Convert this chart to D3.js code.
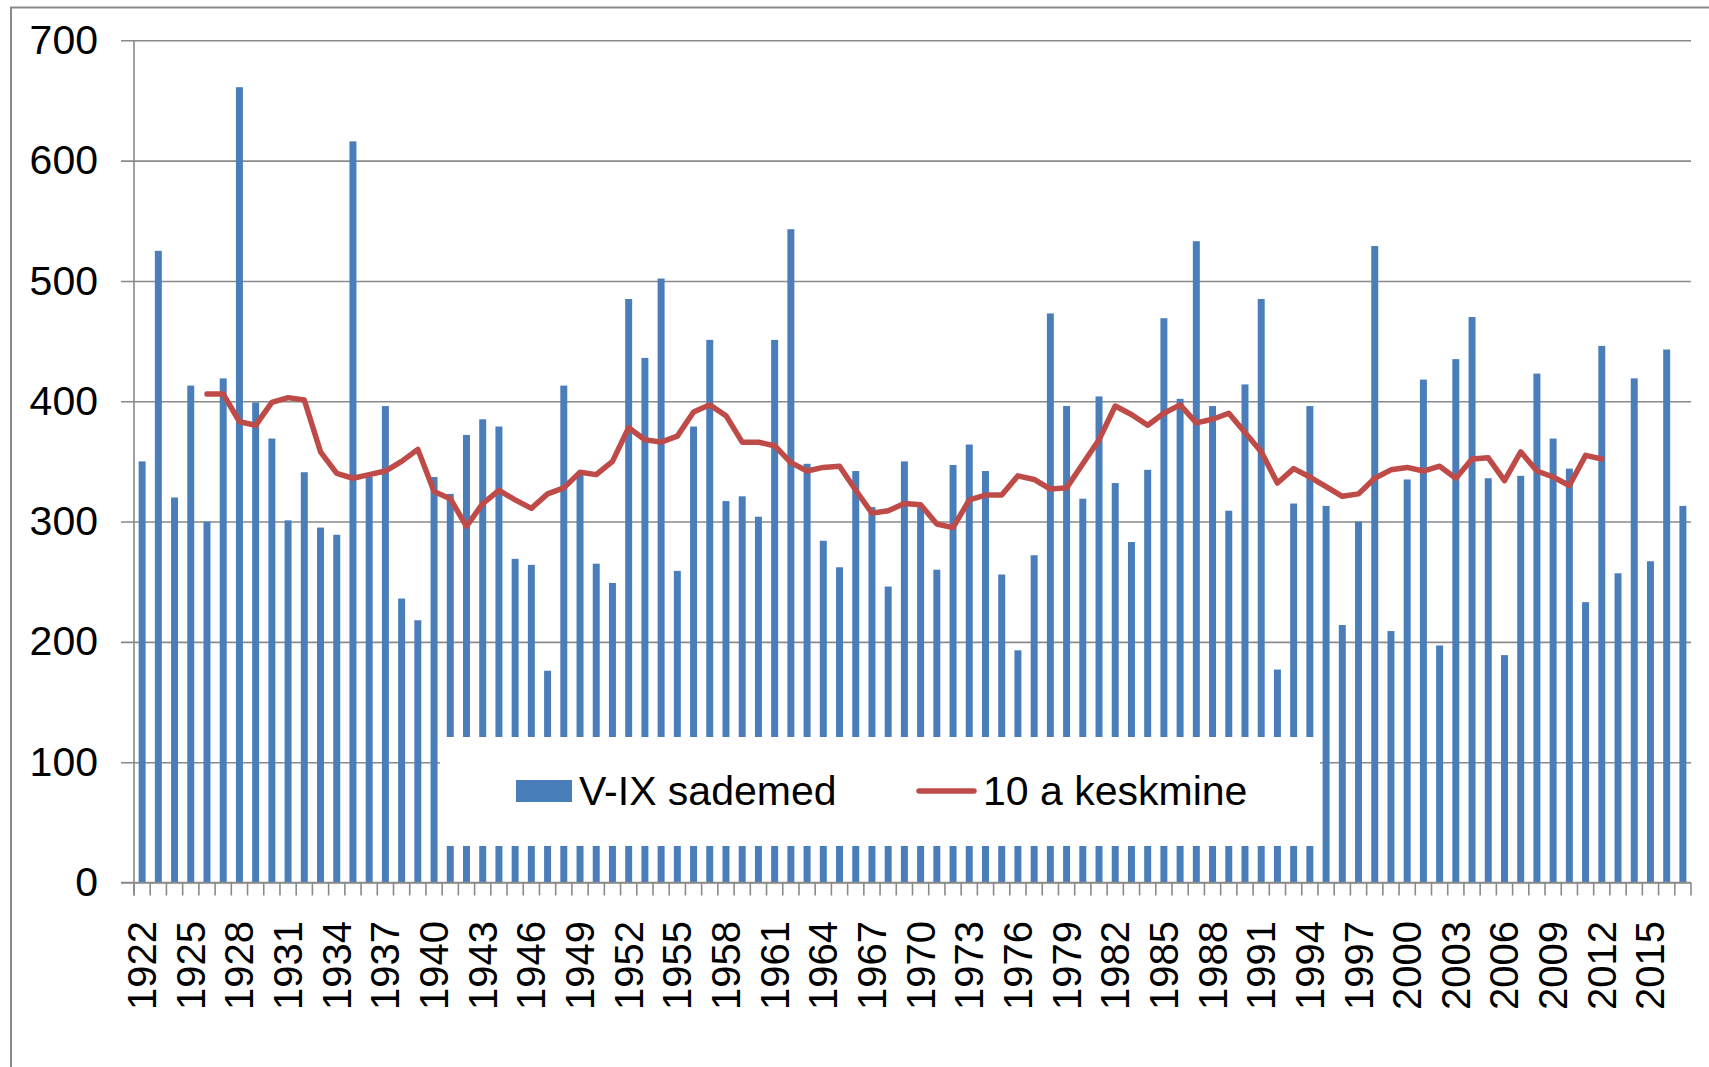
<!DOCTYPE html>
<html>
<head>
<meta charset="utf-8">
<script src="https://cdn.jsdelivr.net/npm/d3@7"></script>
<style>
  body { margin: 0; background: #fff; }
  text { font-family: "Liberation Sans", Arial, sans-serif; }
</style>
</head>
<body>
<div id="chart"></div>
<script>
// years on the category axis
const years = d3.range(1922, 2018);

// V-IX sademed (mm), one value per year 1922..2017
const sademed = [
  350, 525, 320, 413, 300, 419, 661, 399, 369, 301,
  341, 295, 289, 616, 337, 396, 236, 218, 337, 323,
  372, 385, 379, 269, 264, 176, 413, 341, 265, 249,
  485, 436, 502, 259, 379, 451, 317, 321, 304, 451,
  543, 348, 284, 262, 342, 312, 246, 350, 312, 260,
  347, 364, 342, 256, 193, 272, 473, 396, 319, 404,
  332, 283, 343, 469, 402, 533, 396, 309, 414, 485,
  177, 315, 396, 313, 214, 300, 529, 209, 335, 418,
  197, 435, 470, 336, 189, 338, 423, 369, 344, 233,
  446, 257, 419, 267, 443, 313
];

// 10 a keskmine, years 1926..2012
const keskmineStart = 1926;
const keskmine = [
  406, 406, 383, 380, 399, 403, 401, 358, 340, 336,
  339, 342, 350, 360, 325, 319, 296, 315, 326, 318,
  311, 323, 328, 341, 339, 350, 378, 368, 366, 371,
  391, 397, 388, 366, 366, 363, 349, 342, 345, 346,
  326, 307, 309, 315, 314, 298, 295, 318, 322, 322,
  338, 335, 327, 328, 348, 368, 396, 389, 380, 390,
  397, 382, 385, 390, 374, 358, 332, 344, 337, 329,
  321, 323, 336, 343, 345, 342, 346, 336, 352, 353,
  334, 358, 342, 337, 330, 355, 352
];

const yTicks = d3.range(0, 701, 100);
const xLabelYears = years.filter(y => (y - 1922) % 3 === 0);

const W = 1709, H = 1067;
const plotLeft = 134, plotRight = 1691, plotTop = 40.3, plotBottom = 882.5;
const grey = "#8a8a8a";

const svg = d3.select("#chart").append("svg")
    .attr("width", W)
    .attr("height", H);

svg.append("rect").attr("width", W).attr("height", H).attr("fill", "#fff");

// outer chart frame (only left and top edges fall inside the picture)
svg.append("rect")
    .attr("x", 11).attr("y", 7.5)
    .attr("width", 1750).attr("height", 1100)
    .attr("fill", "none")
    .attr("stroke", grey)
    .attr("stroke-width", 2);

const x = d3.scaleBand()
    .domain(years)
    .range([plotLeft, plotRight])
    .paddingInner(0.57)
    .paddingOuter(0.285);

const y = d3.scaleLinear().domain([0, 700]).range([plotBottom, plotTop]);

// y axis with gridlines
const yAxis = svg.append("g")
    .attr("transform", `translate(${plotLeft},0)`)
    .call(d3.axisLeft(y).tickValues(yTicks).tickSize(-(plotRight - plotLeft)).tickPadding(36));
yAxis.select(".domain").remove();
yAxis.selectAll(".tick line")
    .attr("x1", -13)
    .attr("stroke", grey)
    .attr("stroke-width", 1.6);
yAxis.selectAll(".tick text")
    .attr("font-size", 41)
    .attr("fill", "#000")
    .style("font-family", '"Liberation Sans", Arial, sans-serif');

// vertical axis line
svg.append("line")
    .attr("x1", plotLeft).attr("x2", plotLeft)
    .attr("y1", plotTop).attr("y2", plotBottom + 13)
    .attr("stroke", grey).attr("stroke-width", 1.6);

// bars
svg.append("g")
  .selectAll("rect")
  .data(sademed)
  .join("rect")
    .attr("x", (d, i) => x(years[i]))
    .attr("y", d => y(d))
    .attr("width", x.bandwidth())
    .attr("height", d => y(0) - y(d))
    .attr("fill", "#4a7ebb");

// x axis: ticks between categories, labels every 3rd year
const step = x.step();
const xAxis = svg.append("g");
xAxis.append("line")
    .attr("x1", plotLeft - 13).attr("x2", plotRight)
    .attr("y1", plotBottom).attr("y2", plotBottom)
    .attr("stroke", grey).attr("stroke-width", 1.6);
xAxis.selectAll(".xt")
  .data(d3.range(years.length + 1))
  .join("line")
    .attr("class", "xt")
    .attr("x1", i => plotLeft + i * step).attr("x2", i => plotLeft + i * step)
    .attr("y1", plotBottom).attr("y2", plotBottom + 13)
    .attr("stroke", grey).attr("stroke-width", 1.6);
xAxis.selectAll(".xl")
  .data(xLabelYears)
  .join("text")
    .attr("class", "xl")
    .attr("transform", d => `translate(${x(d) + x.bandwidth() / 2},921) rotate(-90)`)
    .attr("text-anchor", "end")
    .attr("dy", "0.35em")
    .attr("font-size", 40)
    .attr("fill", "#000")
    .text(d => d);

// 10 a keskmine line
const line = d3.line()
    .x((d, i) => x(keskmineStart + i) + x.bandwidth() / 2)
    .y(d => y(d));
svg.append("path")
    .datum(keskmine)
    .attr("d", line)
    .attr("fill", "none")
    .attr("stroke", "#be4b48")
    .attr("stroke-width", 5.5)
    .attr("stroke-linejoin", "round")
    .attr("stroke-linecap", "round");

// legend box covering the lower part of the plot
const legend = svg.append("g");
legend.append("rect")
    .attr("x", 440).attr("y", 737)
    .attr("width", 880).attr("height", 109)
    .attr("fill", "#fff");
legend.append("rect")
    .attr("x", 516).attr("y", 780)
    .attr("width", 56).attr("height", 22)
    .attr("fill", "#4a7ebb");
legend.append("text")
    .attr("x", 579).attr("y", 805)
    .attr("font-size", 41)
    .text("V-IX sademed");
legend.append("line")
    .attr("x1", 919).attr("x2", 974)
    .attr("y1", 791).attr("y2", 791)
    .attr("stroke", "#be4b48")
    .attr("stroke-width", 5.5)
    .attr("stroke-linecap", "round");
legend.append("text")
    .attr("x", 983).attr("y", 805)
    .attr("font-size", 41)
    .text("10 a keskmine");
</script>
</body>
</html>
